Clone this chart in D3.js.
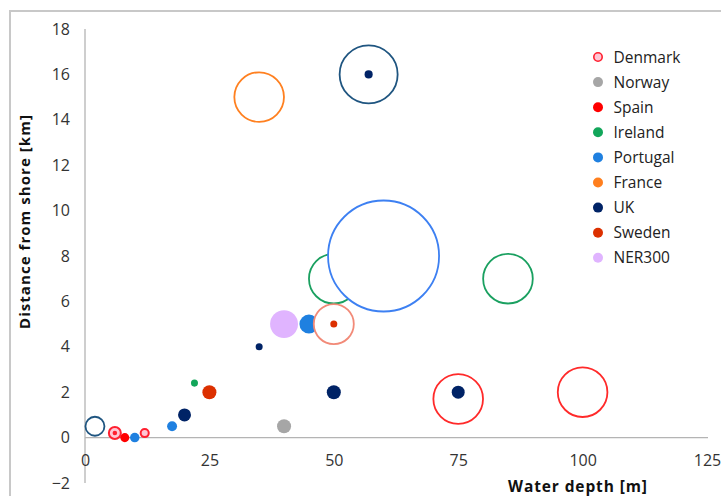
<!DOCTYPE html>
<html><head><meta charset="utf-8">
<script src="https://d3js.org/d3.v7.min.js"></script>
<style>body{margin:0;background:#fff}svg{display:block}</style>
</head><body>
<script>
// ---- data ----
const countries = ["Denmark","Norway","Spain","Ireland","Portugal","France","UK","Sweden","NER300"];
const xTicks = [0,25,50,75,100,125];
const yTicks = [-2,0,2,4,6,8,10,12,14,16,18];
// [water depth m, distance km, capacity size, hollow]
const denmark  = [[75,1.7,600,1],[100,2,600,1],[6,0.2,35,2],[6,0.2,5,0],[12,0.2,16,2]];
const norway   = [[40,0.5,48,0]];
const spain    = [[8,0,20,0]];
const ireland  = [[50,7,600,1],[85,7,600,1],[22,2.4,12,0]];
const portugal = [[60,8,3000,1],[45,5,88,0],[17.5,0.5,24,0],[10,0,22,0]];
const france   = [[35,15,600,1]];
const uk       = [[57,16,820,1],[57,16,16,0],[2,0.5,88,1],[20,1,41,0],[35,4,12,0],[50,2,48,0],[75,2,41,0]];
const sweden   = [[50,5,390,1],[50,5,12,0],[25,2,48,0]];
const ner300   = [[40,5,190,0]];

const seriesData = [denmark,norway,spain,ireland,portugal,france,uk,sweden,ner300];
const fillColors = ["#ff1f2f","#a6a6a6","#ff0000","#12a65a","#1f80e0","#ff7f1e","#002366","#dc3000","#e0b4ff"];
const ringColors = ["#ff2a2a","#a6a6a6","#ff0000","#1aa060","#3d80f2","#ff8020","#1f5580","#f28a78","#e0b4ff"];

const W=721,H=496;
const svg=d3.select("body").append("svg").attr("width",W).attr("height",H);
const font="'Open Sans', sans-serif";

svg.append("rect").attr("x",10).attr("y",11).attr("width",760).attr("height",560)
  .attr("fill","none").attr("stroke","#c8c8c8").attr("stroke-width",2);

const x=d3.scaleLinear().domain([0,125]).range([85,707]);
const y=d3.scaleLinear().domain([-2,18]).range([483,29]);
const r=d3.scaleSqrt().domain([0,3000]).range([0,55.5]);

// axes lines
svg.append("line").attr("x1",x(0)).attr("x2",x(0)).attr("y1",y(18)).attr("y2",y(-2)).attr("stroke","#b4b4b4").attr("stroke-width",1.3);
svg.append("line").attr("x1",x(0)).attr("x2",x(125)+1).attr("y1",y(0)).attr("y2",y(0)).attr("stroke","#b4b4b4").attr("stroke-width",1.3);

const yAxis=d3.axisLeft(y).tickValues(yTicks).tickSize(0).tickPadding(15);
const gy=svg.append("g").attr("transform",`translate(${x(0)},0)`).call(yAxis);
gy.select(".domain").remove();
gy.selectAll("text").attr("font-family",font).attr("font-size",16).attr("fill","#333");

const xAxis=d3.axisBottom(x).tickValues(xTicks).tickSize(0).tickPadding(17);
const gx=svg.append("g").attr("transform",`translate(0,${y(0)})`).call(xAxis);
gx.select(".domain").remove();
gx.selectAll("text").attr("font-family",font).attr("font-size",16).attr("fill","#333");

svg.append("text").attr("transform",`translate(30,222) rotate(-90)`).attr("text-anchor","middle")
  .attr("font-family",font).attr("font-weight","bold").attr("font-size",15).attr("fill","#111")
  .attr("textLength",214).attr("lengthAdjust","spacing")
  .text("Distance  from shore  [km]");
svg.append("text").attr("x",577.5).attr("y",492).attr("text-anchor","middle")
  .attr("font-family",font).attr("font-weight","bold").attr("font-size",15.5).attr("fill","#111")
  .attr("textLength",139).attr("lengthAdjust","spacing")
  .text("Water depth [m]");

// bubbles
seriesData.forEach((pts,i)=>{
  const g=svg.append("g");
  g.selectAll("circle").data(pts).join("circle")
    .attr("cx",d=>x(d[0])).attr("cy",d=>y(d[1])).attr("r",d=>r(d[2]))
    .attr("fill",d=>d[3]===1?"#fff":d[3]===2?"#ffc6d4":fillColors[i])
    .attr("stroke",d=>d[3]===1?ringColors[i]:d[3]===2?fillColors[i]:"none")
    .attr("stroke-width",d=>d[3]===1?1.8:d[3]===2?2:0);
});

// legend
const lg=svg.append("g");
countries.forEach((c,i)=>{
  const yy=57+i*25.1;
  lg.append("circle").attr("cx",598).attr("cy",yy).attr("r",i===0?4.2:5)
    .attr("fill",i===0?"#ffc6d4":fillColors[i]).attr("stroke",i===0?fillColors[0]:"none").attr("stroke-width",1.6);
  lg.append("text").attr("x",613.5).attr("y",yy+5.5).attr("font-family",font).attr("font-size",15.5).attr("fill","#222").text(c);
});
</script>
</body></html>
